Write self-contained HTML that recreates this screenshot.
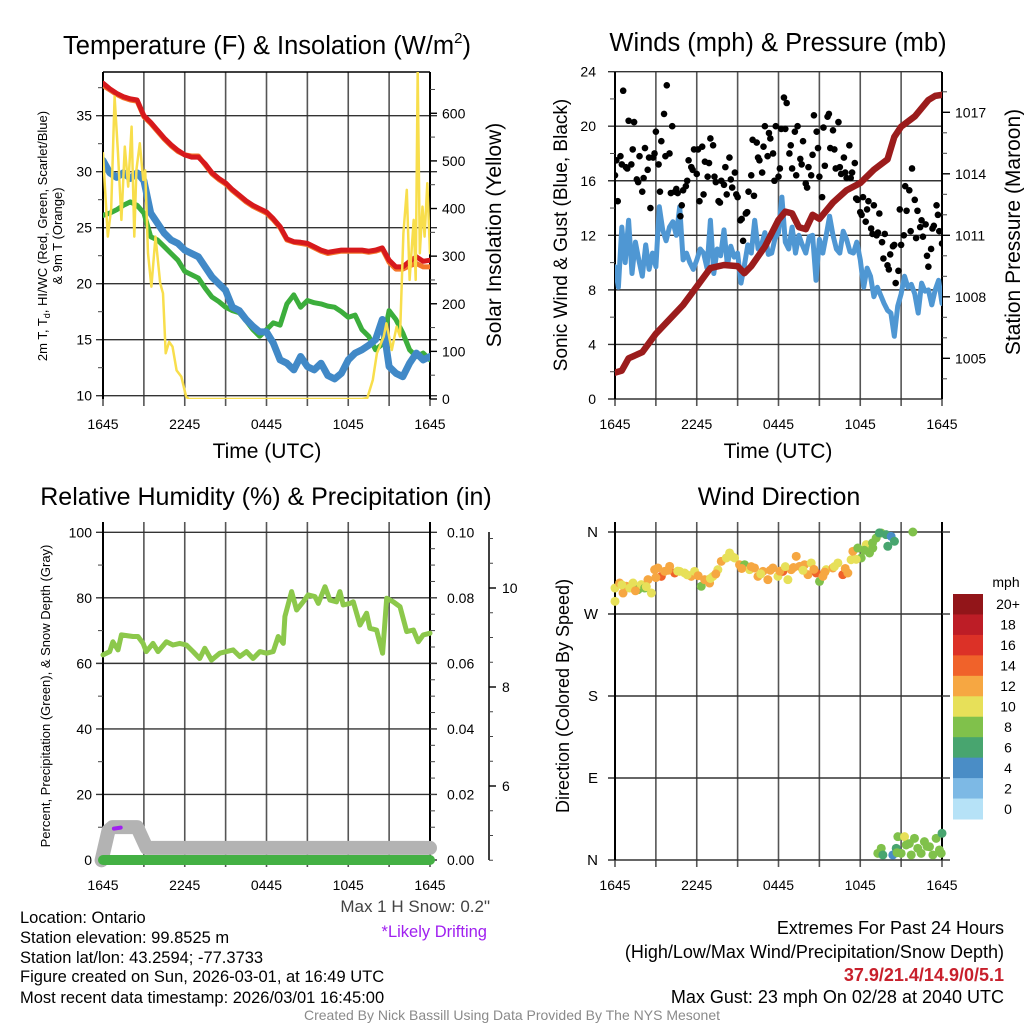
<!DOCTYPE html>
<html><head><meta charset="utf-8"><title>Mesonet Station Meteogram</title>
<style>
html,body{margin:0;padding:0;background:#fff;}
svg{display:block;font-family:"Liberation Sans",Arial,sans-serif;}
text{fill:#000;}
</style></head>
<body>
<svg id="chart" width="1024" height="1024" viewBox="0 0 1024 1024" xmlns="http://www.w3.org/2000/svg">
<defs>
<clipPath id="c1"><rect x="103" y="72" width="327" height="327"/></clipPath>
<clipPath id="c2"><rect x="615" y="72" width="327" height="327"/></clipPath>
<clipPath id="c3"><rect x="90" y="520" width="354" height="352"/></clipPath>
<clipPath id="c4"><rect x="604" y="522" width="350" height="346"/></clipPath>
</defs>
<rect width="1024" height="1024" fill="#fff"/>
<g id="g1"></g>
<g id="g2"></g>
<g id="g3"></g>
<g id="g4"></g>

<text x="267" y="54" font-size="25.5" text-anchor="middle">Temperature (F) &amp; Insolation (W/m<tspan font-size="15" dy="-11">2</tspan><tspan dy="11">)</tspan></text>
<text x="778" y="51" font-size="25.5" text-anchor="middle">Winds (mph) &amp; Pressure (mb)</text>
<text x="266" y="505" font-size="25" text-anchor="middle">Relative Humidity (%) &amp; Precipitation (in)</text>
<text x="779" y="505" font-size="25" text-anchor="middle">Wind Direction</text>

<text x="267" y="458" font-size="21" text-anchor="middle">Time (UTC)</text>
<text x="778" y="458" font-size="21" text-anchor="middle">Time (UTC)</text>

<text transform="translate(47,236) rotate(-90)" font-size="13" text-anchor="middle">2m T, T<tspan font-size="9" dy="3">d</tspan><tspan dy="-3">, HI/WC (Red, Green, Scarlet/Blue)</tspan></text>
<text transform="translate(62,236) rotate(-90)" font-size="13" text-anchor="middle">&amp; 9m T (Orange)</text>
<text transform="translate(501,235) rotate(-90)" font-size="21" text-anchor="middle">Solar Insolation (Yellow)</text>
<text transform="translate(567,235) rotate(-90)" font-size="19" text-anchor="middle">Sonic Wind &amp; Gust (Blue, Black)</text>
<text transform="translate(1020,232) rotate(-90)" font-size="21" text-anchor="middle">Station Pressure (Maroon)</text>
<text transform="translate(50,696) rotate(-90)" font-size="13" text-anchor="middle">Percent, Precipitation (Green), &amp; Snow Depth (Gray)</text>
<text transform="translate(569,696) rotate(-90)" font-size="18" text-anchor="middle">Direction (Colored By Speed)</text>

<text x="490" y="912" font-size="17" text-anchor="end" style="fill:#444">Max 1 H Snow: 0.2"</text>
<text x="487" y="937" font-size="16.5" text-anchor="end" style="fill:#a020f0">*Likely Drifting</text>

<g font-size="16.5">
<text x="20" y="923">Location: Ontario</text>
<text x="20" y="943">Station elevation: 99.8525 m</text>
<text x="20" y="963">Station lat/lon: 43.2594; -77.3733</text>
<text x="20" y="982">Figure created on Sun, 2026-03-01, at 16:49 UTC</text>
<text x="20" y="1003">Most recent data timestamp: 2026/03/01 16:45:00</text>
</g>
<g font-size="18" text-anchor="end">
<text x="1004" y="934">Extremes For Past 24 Hours</text>
<text x="1004" y="958">(High/Low/Max Wind/Precipitation/Snow Depth)</text>
<text x="1004" y="981" font-weight="bold" style="fill:#c8202c">37.9/21.4/14.9/0/5.1</text>
<text x="1004" y="1003">Max Gust: 23 mph On 02/28 at 2040 UTC</text>
</g>
<text x="512" y="1020" font-size="14" text-anchor="middle" style="fill:#8a8a8a">Created By Nick Bassill Using Data Provided By The NYS Mesonet</text>
</svg>

<script>
// ---------- DATA ----------
const xTickLabels = ["1645","2245","0445","1045","1645"];
const halfHourTimes = [];
for (let i = 0; i <= 48; i++) halfHourTimes.push(i * 0.5);
const tempRed = [37.9,37.4,37.0,36.7,36.5,36.4,35.0,34.4,33.7,33.0,32.4,31.9,31.5,31.3,31.3,30.7,29.9,29.4,29.0,28.4,27.9,27.4,27.0,26.7,26.4,25.8,25.1,24.0,23.75,23.7,23.6,23.3,23.0,22.8,22.9,23.0,23.0,23.0,23.0,22.9,23.0,23.2,22.1,21.5,21.5,22.0,22.4,22.0,22.1];
const tempOrange = [37.7,37.3,36.9,36.6,36.4,36.3,34.9,34.3,33.6,32.9,32.3,31.8,31.5,31.4,31.4,30.6,29.8,29.3,28.9,28.3,27.8,27.3,26.9,26.6,26.3,25.7,25.0,23.9,23.7,23.6,23.5,23.2,22.9,22.7,22.8,22.9,22.9,22.9,22.9,22.8,22.9,23.1,21.9,21.3,21.3,21.6,21.8,21.5,21.5];
const dewGreen = [26.1,26.3,26.6,27.0,27.3,27.0,26.3,24.2,23.9,23.3,22.7,22.1,21.1,20.8,20.5,19.6,18.8,18.4,17.9,17.6,17.4,16.7,15.9,15.3,15.9,16.5,16.3,18.2,19.0,17.9,18.5,18.3,18.2,18.0,17.9,17.5,17.0,17.2,15.9,15.3,14.1,14.6,17.6,16.8,15.6,14.1,13.5,13.8,13.2];
const windChillBlue = [31.0,29.9,29.5,29.9,29.4,29.9,29.2,26.3,25.4,24.5,23.9,23.6,23.0,22.7,22.4,21.5,20.6,20.0,19.4,17.9,17.6,16.8,16.2,15.7,15.7,14.7,13.2,12.9,12.3,13.5,12.6,12.3,12.9,11.8,11.5,12.0,13.2,13.8,14.1,14.5,15.0,16.8,12.6,12.0,11.7,12.9,13.8,13.2,13.5];
const tempTicks = [10,15,20,25,30,35];
const solarTicks = [0,100,200,300,400,500,600];
const solT = [0,0.35,0.6,0.85,1.1,1.35,1.6,1.85,2.1,2.3,2.45,2.7,2.95,3.1,3.3,3.55,3.85,4.2,4.4,4.6,4.85,5.1,5.4,5.75,6.1,6.3,19.0,19.4,19.8,20.1,20.6,20.8,21.2,21.55,21.8,22.05,22.3,22.5,22.8,22.95,23.1,23.25,23.45,23.6,23.8,24.0];
const solV = [516,341,400,635,516,376,530,446,572,341,481,537,460,480,306,236,341,243,222,96,120,110,60,47,5,0,0,2,40,96,131,159,103,152,131,348,439,250,376,250,691,306,404,341,453,306];

const quarterTimes = [];
for (let i = 0; i <= 96; i++) quarterTimes.push(i * 0.25);
const windSpeed = [9.7,8.2,12.6,10.0,13.1,9.2,11.5,10.2,9.0,11.3,9.5,10.7,9.7,14.1,12.4,11.6,12.6,13.0,12.0,14.1,10.2,10.7,10.0,9.5,10.2,11.0,10.7,9.6,13.1,9.2,11.0,10.5,12.4,9.8,11.2,10.4,10.7,8.5,9.8,11.3,10.7,13.1,11.0,11.3,12.2,10.6,10.7,11.8,12.2,14.8,11.5,11.0,12.6,10.7,12.0,11.3,10.7,11.9,12.0,8.7,11.7,10.7,12.0,13.4,12.0,11.0,10.7,12.3,11.7,10.8,10.7,11.5,10.2,8.2,9.6,9.0,7.5,8.2,7.6,7.0,6.5,6.3,4.6,6.8,7.7,9.0,8.2,8.4,7.7,6.3,8.5,7.9,8.0,6.9,8.0,8.7,7.0];
const gustA = [16.4,14.5,17.8,22.6,17.0,20.4,17.2,20.3,16.1,17.8,15.2,18.4,16.8,14.0,17.7,19.6,17.2,18.9,20.9,23.0,
 18.0,20.0,15.2,15.1,13.4,15.3,15.6,17.5,17.0,18.3,16.5,14.5,18.5,17.4,16.3,19.1,18.6,15.9,14.5,16.0,
 15.7,15.0,17.7,15.5,16.6,14.8,13.1,11.6,13.6,15.2,16.4,14.9,18.8,17.5,16.6,20.0,17.8,19.1,18.0,20.0,
 16.3,19.8,22.1,21.7,18.0,16.9,19.6,20.0,17.6,18.9,15.8,17.0,16.4,20.8,19.6,16.3,14.8,17.1,20.7,18.4,
 19.7,16.9,20.3,16.5,17.7,16.2,18.6,16.6,17.3,14.6,13.7,14.8,13.0,14.5,12.5,14.2,12.0,13.6,11.5,12.1,
 9.8,10.6,11.2,8.5,9.4,11.3,12.0,13.8,15.3,16.9,14.6,13.8,12.6,11.9,12.8,9.7,11.0,12.7,14.2,12.3,11.4];
const gustB = [17.5,17.2,16.9,18.3,15.9,16.2,17.7,18.0,15.2,17.8,
 15.1,15.4,14.2,16.0,16.8,18.3,15.0,17.3,16.3,14.4,
 17.0,16.1,15.0,13.2,13.7,19.0,17.7,18.5,19.5,16.0,
 16.9,19.8,18.6,16.4,17.2,15.5,17.9,18.4,19.9,20.9,
 18.3,17.0,16.6,16.2,14.7,13.5,13.9,12.1,12.2,10.3,
 9.5,11.3,13.9,15.6,12.3,11.8,13.1,10.5,12.5,13.5];
const presT = [0,0.5,1,2,3,4,5,6,7,8,9,9.5,10,11,12,12.5,13,13.5,14,14.5,15,16,17,18,19,20,20.5,21,22,23,23.5,24];
const presV = [1004.3,1004.4,1005.0,1005.3,1006.2,1006.9,1007.6,1008.5,1009.4,1009.55,1009.5,1009.15,1009.5,1010.45,1011.75,1012.15,1012.07,1011.4,1011.3,1012.0,1011.8,1012.6,1013.2,1013.55,1014.2,1014.7,1015.8,1016.3,1016.8,1017.6,1017.8,1017.85];
const windTicks = [0,4,8,12,16,20,24];
const presTicks = [1005,1008,1011,1014,1017];

const rhT = [0,0.49,0.73,1.10,1.35,2.20,2.57,2.94,3.18,3.67,4.04,4.65,5.14,5.63,6.12,6.61,7.10,7.47,7.96,8.57,9.06,9.55,10.04,10.53,11.02,11.51,12.0,12.49,12.86,13.23,13.35,13.84,14.21,14.69,15.06,15.55,15.80,16.29,16.65,17.14,17.39,17.63,18.12,18.37,18.86,19.35,19.59,20.08,20.52,20.82,21.31,21.80,22.29,22.78,23.14,23.51,24.0];
const rhV = [62.6,63.6,66.6,64.1,68.7,68.2,68.2,66.1,63.6,66.1,63.6,66.6,65.6,66.1,65.6,63.6,61.5,64.6,61.0,63.1,63.6,64.1,62.1,63.6,61.5,63.6,63.1,63.6,68.2,66.1,74.3,81.9,76.3,78.8,80.9,80.4,78.3,83.4,79.3,78.8,81.9,77.8,78.3,78.8,71.7,75.3,70.7,70.2,63.1,79.9,78.8,77.3,69.7,70.2,66.6,68.7,69.2];
const precipT = [0,24];
const precipV = [0,0];
const snowT = [-0.1,0.4,0.7,2.5,3.2,24];
const snowV = [4.5,5.1,5.17,5.17,4.75,4.75];
const driftT = [0.8,1.3];
const driftV = [5.14,5.16];
const rhTicks = [0,20,40,60,80,100];
const precipTicks = [0.00,0.02,0.04,0.06,0.08,0.10];
const snowTicks = [6,8,10];

const dirT = [0,0,0.34,0.59,0.83,1.08,1.32,1.69,1.93,2.18,2.42,2.67,2.91,3.15,3.40,3.64,4.01,4.38,4.74,5.11,5.60,5.84,6.33,6.58,6.94,7.19,7.55,7.80,8.17,8.41,8.78,9.14,9.51,9.88,10.24,10.49,10.86,11.22,11.59,11.96,12.32,12.69,12.93,13.30,13.55,13.91,14.16,14.40,14.77,15.01,15.26,15.50,15.99,16.36,16.72,17.09,17.33,17.46,17.82,18.07,18.44,18.68,18.92,19.17,19.54,19.90,20.27,20.02,20.51,21.86,
 19.29,19.54,19.66,20.39,20.64,20.76,21.25,21.00,21.37,21.74,21.98,22.22,22.47,22.71,23.08,23.33,23.57,23.81,24.0,23.94,
 0.5,1.5,2.3,3.0,3.9,4.6,5.3,6.1,7.0,7.4,8.6,9.3,10.0,10.7,11.4,12.1,12.5,13.1,13.8,14.6,15.4,16.1,16.9,17.7,18.3,18.9,19.4,20.7,21.6,22.9];
const dirV = [283.9,298.5,304.0,293.0,300.4,298.5,304.0,296.7,302.2,298.5,307.7,293.0,318.7,320.5,311.3,316.8,322.3,315.0,316.8,315.0,311.3,316.8,300.4,307.7,304.0,311.3,318.7,327.8,331.5,337.0,331.5,324.1,324.1,318.7,320.5,311.3,316.8,307.7,320.5,311.3,316.8,307.7,318.7,333.3,322.3,324.1,313.2,326.0,315.0,305.8,311.3,318.7,320.5,326.0,313.2,315.0,329.6,338.8,342.4,331.5,346.1,337.0,342.4,353.4,358.9,357.1,355.2,344.3,349.8,360,
 7.3,12.8,5.5,5.5,12.8,25.6,25.6,7.3,16.5,5.5,23.8,12.8,7.3,20.1,14.6,5.5,23.8,11.0,29.3,7.3,
 302.0,295.5,300.0,310.0,318.0,317.0,313.0,312.0,309.0,314.0,333.0,320.0,322.0,314.0,318.0,317.0,322.0,321.0,318.0,319.0,316.0,322.0,320.0,330.0,340.0,348.0,359.0,8.0,18.0,15.0];
const dirS = [11,11,13,13,13,11,11,9,11,9,13,11,13,13,15,13,13,15,11,11,13,11,9,13,13,11,11,13,11,11,11,13,9,11,13,13,13,13,13,11,15,11,13,13,13,13,13,11,15,9,13,11,13,11,15,13,11,13,9,9,11,9,9,9,9,7,5,7,7,9,
 9,9,7,5,7,9,11,9,9,9,9,9,9,9,9,9,9,9,7,9,
 11,13,11,13,13,11,11,13,11,13,11,13,13,11,13,13,11,13,11,13,13,11,13,11,9,9,7,9,9,9];
const dirTicks = [0,90,180,270,360];
const dirTickLabels = ["N","E","S","W","N"];
const speedColors = ["#b6e2f7","#7db9e5","#4a8dc6","#48a56f","#80c14b","#e7e059","#f6a742","#f0622a","#dc3127","#bd1d26","#921519"];
const speedLabels = ["0","2","4","6","8","10","12","14","16","18","20+"];

// ---------- SCALES ----------
const xL = t => 103 + t * 327 / 24;
const xR = t => 615 + t * 327 / 24;
const yTemp = v => 395.7 - (v - 10) * 11.2;
const ySol = v => 399 - v * 0.4762;
const yWind = v => 399 - v * 13.64;
const yPres = p => 358.3 - (p - 1005) * 20.5;
const yRH = v => 860 - v * 3.277;
const yPrecip = v => 860 - v * 3277;
const ySnow = v => 588 + (10 - v) * 49.5;
const yDir = d => 860 - d * 0.9111;

const NS = 'http://www.w3.org/2000/svg';
function mk(tag, attrs, parent) {
  const e = document.createElementNS(NS, tag);
  for (const k in attrs) e.setAttribute(k, attrs[k]);
  parent.appendChild(e);
  return e;
}
function pathFrom(ts, vs, fx, fy) {
  let d = '';
  for (let i = 0; i < ts.length; i++) d += (i ? 'L' : 'M') + fx(ts[i]).toFixed(1) + ',' + fy(vs[i]).toFixed(1);
  return d;
}

function frame(g, x0, y0, y1, hLines, vTop, withRightAxis) {
  const x1 = x0 + 327;
  for (let i = 0; i <= 8; i++) {
    const x = x0 + i * 327 / 8;
    const gl = mk('line', {x1: x, x2: x, y1: vTop, y2: y1 + 7, stroke: '#555', 'stroke-width': 1.6}, g);
    
    
  }
  hLines.forEach(y => {
    const hl = mk('line', {x1: x0 - 7, x2: x1 + (withRightAxis ? 7 : 0), y1: y, y2: y, stroke: '#333', 'stroke-width': 1.4}, g);
    
    
  });
  const la = mk('line', {x1: x0, x2: x0, y1: vTop, y2: y1, stroke: '#000', 'stroke-width': 2}, g);
  
  
  const ra = mk('line', {x1: x1, x2: x1, y1: vTop, y2: y1, stroke: '#000', 'stroke-width': 2}, g);
  
  
  xTickLabels.forEach((lab, i) => {
    const t = mk('text', {x: x0 + i * 327 / 4, y: y1 + 30, 'font-size': 14, 'text-anchor': 'middle'}, g);
    t.textContent = lab;
    
    
  });
}
function minorTicks(g, x, vals, fy, len) {
  vals.forEach(v => {
    const m = mk('line', {x1: x, x2: x + len, y1: fy(v), y2: fy(v), stroke: '#444', 'stroke-width': 1}, g);
    
    
  });
}
function tickLabels(g, x, vals, labels, fy, anchor, size) {
  vals.forEach((v, i) => {
    const t = mk('text', {x: x, y: fy(v) + 5, 'font-size': size || 14, 'text-anchor': anchor}, g);
    t.textContent = labels[i];
    
    
  });
}
function majorTicks(g, x, vals, fy, len) {
  vals.forEach(v => {
    const m = mk('line', {x1: x, x2: x + len, y1: fy(v), y2: fy(v), stroke: '#000', 'stroke-width': 1.4}, g);
    
    
  });
}

// ---------- PANEL 1: Temperature ----------
const g1 = document.getElementById('g1');
frame(g1, 103, 72, 399, tempTicks.map(yTemp), 72, true);
const tb = mk('line', {x1: 103, x2: 430, y1: 72, y2: 72, stroke: '#000', 'stroke-width': 1.5}, g1);


const mt1 = []; for (let v = 12.5; v < 39; v += 5) mt1.push(v);
minorTicks(g1, 103, mt1, yTemp, -5);
const ms1 = []; for (let v = 50; v < 690; v += 100) ms1.push(v);
minorTicks(g1, 430, ms1, ySol, 5);
majorTicks(g1, 430, solarTicks, ySol, 7);
tickLabels(g1, 92, tempTicks, tempTicks.map(String), yTemp, 'end');
tickLabels(g1, 442, solarTicks, solarTicks.map(String), ySol, 'start');
const c1 = mk('g', {'clip-path': 'url(#c1)', fill: 'none', 'stroke-linejoin': 'round', 'stroke-linecap': 'round'}, g1);

const pOr = mk('path', {d: pathFrom(halfHourTimes, tempOrange, xL, yTemp), stroke: '#f4762a', 'stroke-width': 5}, c1);


const pRed = mk('path', {d: pathFrom(halfHourTimes, tempRed, xL, yTemp), stroke: '#d7191c', 'stroke-width': 5}, c1);


const pGr = mk('path', {d: pathFrom(halfHourTimes, dewGreen, xL, yTemp), stroke: '#3cae3c', 'stroke-width': 5}, c1);


const pBl = mk('path', {d: pathFrom(halfHourTimes, windChillBlue, xL, yTemp), stroke: '#4189c7', 'stroke-width': 7}, c1);


const pYe = mk('path', {d: pathFrom(solT, solV, xL, ySol), stroke: '#f8de4c', 'stroke-width': 2.5}, c1);



// ---------- PANEL 2: Winds ----------
const g2 = document.getElementById('g2');
frame(g2, 615, 72, 399, windTicks.map(yWind), 72, false);
const mw = []; for (let v = 2; v < 24; v += 4) mw.push(v);
minorTicks(g2, 615, mw, yWind, -5);
const mp = []; for (let p = 1004; p <= 1018; p++) if (!presTicks.includes(p)) mp.push(p);
minorTicks(g2, 942, mp, yPres, 5);
majorTicks(g2, 942, presTicks, yPres, 8);
tickLabels(g2, 596, windTicks, windTicks.map(String), yWind, 'end');
tickLabels(g2, 955, presTicks, presTicks.map(String), yPres, 'start');
const c2 = mk('g', {'clip-path': 'url(#c2)', fill: 'none', 'stroke-linejoin': 'round', 'stroke-linecap': 'round'}, g2);

const pW = mk('path', {d: pathFrom(quarterTimes, windSpeed, xR, yWind), stroke: '#4f97d3', 'stroke-width': 5}, c2);


const pP = mk('path', {d: pathFrom(presT, presV, xR, yPres), stroke: '#9b1c1c', 'stroke-width': 6.5}, c2);


gustA.forEach((v, i) => {
  const c = mk('circle', {cx: xR(i * 0.2), cy: yWind(v), r: 3.3, fill: '#000'}, c2);
  
  
});
gustB.forEach((v, i) => {
  const c = mk('circle', {cx: xR(0.1 + i * 0.4), cy: yWind(v), r: 3.3, fill: '#000'}, c2);
  
  
});

// ---------- PANEL 3: Humidity ----------
const g3 = document.getElementById('g3');
frame(g3, 103, 532, 860, rhTicks.map(yRH), 522, true);
const mr = []; for (let v = 10; v < 100; v += 20) mr.push(v);
minorTicks(g3, 103, mr, yRH, -5);
const mpr = []; for (let v = 0.005; v < 0.1; v += 0.005) mpr.push(v);
minorTicks(g3, 430, mpr, yPrecip, 5);
tickLabels(g3, 92, rhTicks, rhTicks.map(String), yRH, 'end');
tickLabels(g3, 447, precipTicks, precipTicks.map(v => v.toFixed(2)), yPrecip, 'start');
const sa = mk('line', {x1: 489, x2: 489, y1: 532, y2: 860, stroke: '#000', 'stroke-width': 1.5}, g3);


const msn = []; for (let v = 4.5; v <= 11; v += 0.5) if (!snowTicks.includes(v)) msn.push(v);
minorTicks(g3, 489, msn, ySnow, 4);
majorTicks(g3, 489, snowTicks, ySnow, 7);
tickLabels(g3, 502, snowTicks, snowTicks.map(String), ySnow, 'start');
const c3 = mk('g', {'clip-path': 'url(#c3)', fill: 'none', 'stroke-linejoin': 'round', 'stroke-linecap': 'round'}, g3);

const pS = mk('path', {d: pathFrom(snowT, snowV, xL, ySnow), stroke: '#b3b3b3', 'stroke-width': 14}, c3);


const pD = mk('path', {d: pathFrom(driftT, driftV, xL, ySnow), stroke: '#a020f0', 'stroke-width': 4}, c3);


const pPr = mk('path', {d: pathFrom(precipT, precipV, xL, yPrecip), stroke: '#44b044', 'stroke-width': 10}, c3);


const pRH = mk('path', {d: pathFrom(rhT, rhV, xL, yRH), stroke: '#8cc84b', 'stroke-width': 5}, c3);



// ---------- PANEL 4: Wind direction ----------
const g4 = document.getElementById('g4');
frame(g4, 615, 532, 860, dirTicks.map(yDir), 522, false);
const ext = mk('g', {}, g4);
dirTicks.forEach(d => {
  const l = mk('line', {x1: 942, x2: 950, y1: yDir(d), y2: yDir(d), stroke: '#333', 'stroke-width': 1.4}, ext);
  
  
});
tickLabels(g4, 598, dirTicks, dirTickLabels, yDir, 'end', 15);
const c4 = mk('g', {'clip-path': 'url(#c4)'}, g4);

dirT.forEach((t, i) => {
  const idx = Math.min(10, Math.max(0, Math.floor(dirS[i] / 2)));
  const c = mk('circle', {cx: xR(t), cy: yDir(dirV[i]), r: 4.5, fill: speedColors[idx]}, c4);
  
  
});
// colorbar
const cb = mk('g', {}, g4);


const cbTop = 594, cbH = 225 / 11;
for (let i = 0; i < 11; i++) {
  const k = 10 - i;
  const r = mk('rect', {x: 953, y: cbTop + i * cbH, width: 30, height: cbH + 0.5, fill: speedColors[k]}, cb);
  
  
  const t = mk('text', {x: 1008, y: cbTop + i * cbH + cbH / 2 + 5, 'font-size': 14, 'text-anchor': 'middle'}, cb);
  t.textContent = speedLabels[k];
  
  
}
const cbt = mk('text', {x: 1006, y: 587, 'font-size': 14, 'text-anchor': 'middle'}, cb);
cbt.textContent = 'mph';


</script>
</body></html>
